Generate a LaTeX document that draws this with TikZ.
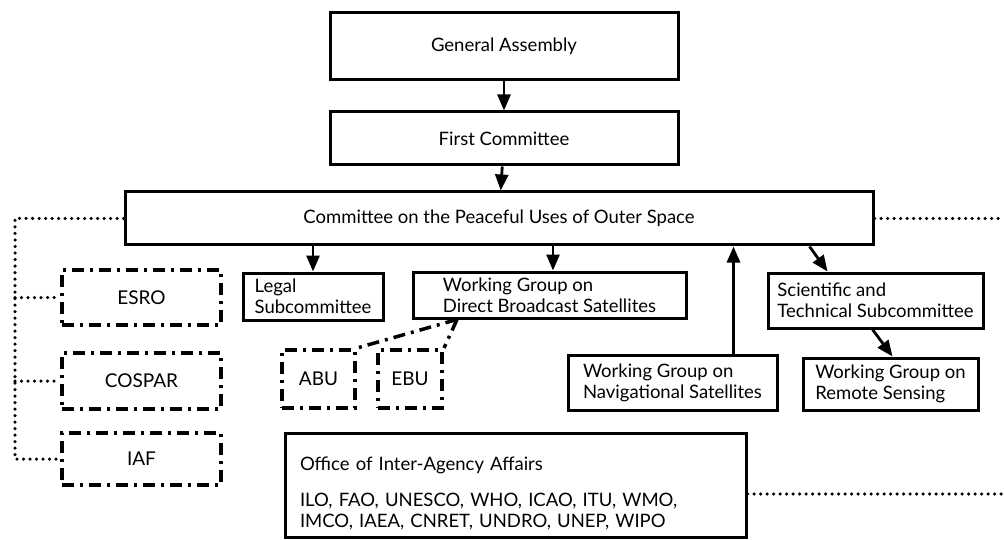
\documentclass[tikz,border=0pt]{standalone}
\usepackage{fontspec}
\setmainfont{Lato}
\usetikzlibrary{arrows.meta}

\begin{document}
\begin{tikzpicture}[x=1pt, y=-1pt,
  box/.style={draw, line width=3pt, align=left, inner sep=0pt, font=\fontsize{18.5}{21}\selectfont},
  agency/.style={draw, line width=4pt, dash pattern=on 12pt off 6pt on 3pt off 6pt, inner sep=0pt, font=\fontsize{19}{22}\selectfont},
  arr/.style={line width=2.8pt, -{Triangle[length=16pt,width=13pt]}},
  dotline/.style={line width=3.5pt, line cap=round, dash pattern=on 0pt off 6.5pt},
  dashdotline/.style={line width=3.5pt, dash pattern=on 12pt off 6pt on 3pt off 6pt}]
\useasboundingbox (0,0) rectangle (1004,540);
% main line
\node[box, align=center, minimum width=348pt, minimum height=67pt] (ga) at (504,46.5) {General Assembly};
\node[box, align=center, minimum width=348pt, minimum height=53pt] (fc) at (504,138.5) {First Committee};
\node[box, align=center, minimum width=748pt, minimum height=53pt] (copuos) at (499,218.5) {Committee on the Peaceful Uses of Outer Space};
\draw[arr] (ga) -- (fc);
\draw[arr] (fc) -- (copuos);
% subsidiary bodies
\node[box, minimum width=140pt, minimum height=47pt] (legal) at (313,296.5) {Legal\\Subcommittee};
\node[box, minimum width=273pt, minimum height=46pt] (wgdbs) at (549.5,295) {Working Group on\\Direct Broadcast Satellites};
\node[box, minimum width=215pt, minimum height=55pt] (sci) at (875.5,300.5) {Scientific and\\Technical Subcommittee};
\node[box, minimum width=209pt, minimum height=55pt] (nav) at (672.5,382.5) {Working Group on\\Navigational Satellites};
\node[box, minimum width=175pt, minimum height=52pt] (remote) at (890.5,384) {Working Group on\\Remote Sensing};
\draw[arr] (legal.north |- copuos.south) -- (legal.north);
\draw[arr] ([xshift=3.5pt]wgdbs.north |- copuos.south) -- ([xshift=3.5pt]wgdbs.north);
\draw[arr] ([xshift=-45pt]nav.north east) -- ([xshift=-45pt]nav.north east |- copuos.south);
\draw[arr] ([xshift=-65pt]copuos.south east) -- ([xshift=-48pt]sci.north);
\draw[arr] ([xshift=-3pt]sci.south) -- ([xshift=2pt]remote.north);
% outside organisations
\node[agency, minimum width=159pt, minimum height=55pt] (esro) at (141.5,297.5) {ESRO};
\node[agency, minimum width=159pt, minimum height=56pt] (cospar) at (141.5,381) {COSPAR};
\node[agency, minimum width=159pt, minimum height=52pt] (iaf) at (141.5,459) {IAF};
\node[agency, minimum width=73pt, minimum height=58pt] (abu) at (318.5,379) {ABU};
\node[agency, minimum width=64pt, minimum height=58pt] (ebu) at (410,379) {EBU};
\coordinate (bus) at (15,0);
\coordinate (rim) at (1004,0);
\draw[dotline] (copuos.west) -| (bus |- iaf.west) -- (iaf.west);
\draw[dotline] (bus |- esro.west) -- (esro.west);
\draw[dotline] (bus |- cospar.west) -- (cospar.west);
\draw[dotline] (copuos.east) -- (copuos.east -| rim);
\coordinate (fork) at ([xshift=-92.5pt]wgdbs.south);
\draw[dashdotline] (fork) -- (abu.north east);
\draw[dashdotline] (fork) -- (ebu.north east);
% office
\node[box, inner xsep=15pt, text width=431pt, minimum height=104pt, font=\fontsize{18.5}{21}\selectfont] (office) at (515.5,485)
  {\rule{0pt}{30pt}Office of Inter-Agency Affairs\\[15pt]ILO, FAO, UNESCO, WHO, ICAO, ITU, WMO,\\IMCO, IAEA, CNRET, UNDRO, UNEP, WIPO};
\draw[dotline] ([yshift=-9pt]office.east) -- ([yshift=-9pt]office.east -| rim);
\end{tikzpicture}
\end{document}
